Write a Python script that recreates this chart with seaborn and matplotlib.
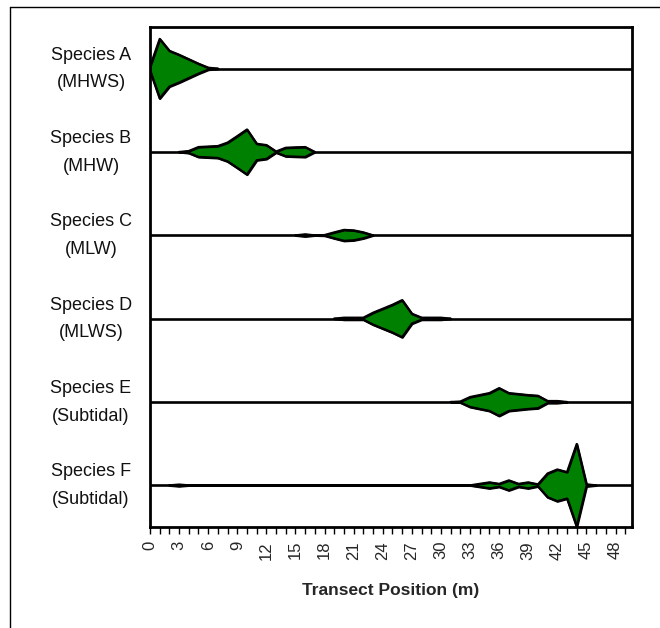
import numpy as np
import pandas as pd
import matplotlib
matplotlib.use("Agg")
import matplotlib.pyplot as plt
from matplotlib.lines import Line2D
import seaborn as sns

# ---- data (abundance read from the kite half-widths) ----
species = ["Species A", "Species B", "Species C", "Species D", "Species E", "Species F"]
zones = ["(MHWS)", "(MHW)", "(MLW)", "(MLWS)", "(Subtidal)", "(Subtidal)"]

a_pos = [0, 1, 2, 3, 4, 5, 6, 7]
a_val = [2, 30, 18, 14, 9.5, 5, 1, 0]

b_pos = [3, 4, 5, 6, 7, 8, 9, 10, 11, 12, 13, 14, 15, 16, 17]
b_val = [0, 1, 5, 5.5, 6, 9.5, 16, 22.7, 8.3, 7, 0.5, 4.3, 4.7, 5, 0]

c_pos = [15, 16, 17, 18, 19, 20, 21, 22, 23]
c_val = [0, 1, 0, 0.3, 3, 5.5, 5, 3, 0]

d_pos = [19, 20, 21, 22, 23, 24, 25, 26, 27, 28, 29, 30, 31]
d_val = [0, 1, 1, 1, 6, 10, 14, 18.7, 5, 1, 1, 1, 0]

e_pos = [31, 32, 33, 34, 35, 36, 37, 38, 39, 40, 41, 42, 43]
e_val = [0, 0.5, 5, 7, 9, 14, 9, 8, 7, 6.3, 1, 1, 0]

f_pos = [2, 3, 4, 33, 34, 35, 36, 37, 38, 39, 40, 41, 42, 43, 44, 45, 46]
f_val = [0, 0.8, 0, 0, 1.5, 3, 1.5, 5, 1.5, 3, 1, 12, 16, 13.3, 41.7, 1, 0]

positions = [a_pos, b_pos, c_pos, d_pos, e_pos, f_pos]
values = [a_val, b_val, c_val, d_val, e_val, f_val]

x_major = list(range(0, 49, 3))
x_minor = list(range(0, 50))

# long table
rows = []
for i, (sp, ps, vs) in enumerate(zip(species, positions, values)):
    for p, v in zip(ps, vs):
        rows.append({"species": sp, "row": i, "pos": p, "abund": v})
df = pd.DataFrame(rows)

sns.set_theme(style="white")
plt.rcParams['font.family'] = ['Liberation Sans', 'DejaVu Sans']

fig = plt.figure(figsize=(6.6, 6.28), dpi=100)
ax = fig.add_axes([150/660, 1-527/628, 482/660, 500/628])

green = "#008000"
scale = 0.5 / 42.0
for i, sp in enumerate(species):
    yb = i + 0.5
    ax.axhline(yb, color="black", lw=1.9, zorder=1)
    sub = df[df["species"] == sp].sort_values("pos")
    x = sub["pos"].to_numpy(float)
    v = sub["abund"].to_numpy(float) * scale
    ax.fill_between(x, yb - v, yb + v, facecolor=green, edgecolor="black",
                    linewidth=1.6, zorder=2)
    tmp = pd.DataFrame({"x": np.concatenate([x, x]),
                        "y": np.concatenate([yb + v, yb - v]),
                        "side": ["u"] * len(x) + ["l"] * len(x)})
    sns.lineplot(data=tmp, x="x", y="y", units="side", estimator=None,
                 color="black", lw=1.6, ax=ax, zorder=3, sort=False)
    tr = ax.get_yaxis_transform()
    ax.text(-59/482, yb - 0.11, sp, transform=tr, ha="center", va="baseline",
            fontsize=13, color="#111111")
    ax.text(-59/482, yb + 0.225, zones[i], transform=tr, ha="center", va="baseline",
            fontsize=13, color="#111111")

ax.set_xlim(0, 49.7)
ax.set_ylim(6, 0)
ax.set_yticks([])
ax.set_ylabel("")
ax.set_xticks(x_major)
ax.set_xticklabels([str(t) for t in x_major], rotation=90, fontsize=12)
ax.set_xticks(x_minor, minor=True)
ax.tick_params(axis="x", which="both", direction="out", length=5, width=1,
               color="black", bottom=True, pad=5)
ax.set_xlabel("Transect Position (m)", fontsize=12.5, fontweight="bold", va="center")
ax.xaxis.set_label_coords(0.5, -64/500)
for s in ax.spines.values():
    s.set_visible(True)
    s.set_color("black")
    s.set_linewidth(2)

fig.add_artist(Line2D([10/660, 1], [1-7/628, 1-7/628], transform=fig.transFigure,
                      color="black", lw=1))
fig.add_artist(Line2D([10/660, 10/660], [0, 1-7/628], transform=fig.transFigure,
                      color="black", lw=1))

fig.savefig("out.png", dpi=100, facecolor="white")
